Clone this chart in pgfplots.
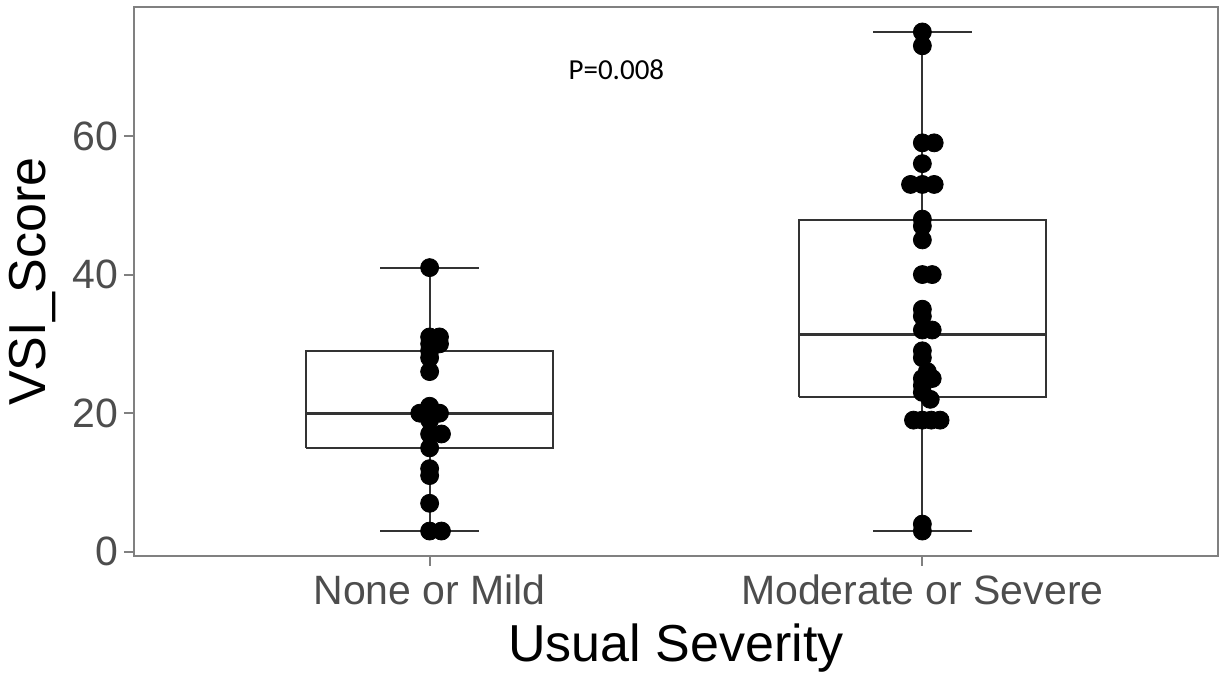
\documentclass[border=0pt]{standalone}
\usepackage{pgfplots}
\pgfplotsset{compat=1.18}
\usetikzlibrary{calc}
\usepackage{fontspec}
\setmainfont{Liberation Sans}
\newfontfamily\calib{Carlito}
\definecolor{tickgray}{HTML}{4D4D4D}
\definecolor{framegray}{HTML}{808080}
\definecolor{boxgray}{HTML}{333333}
\begin{document}
\begin{tikzpicture}
\begin{axis}[
  name=ax,
  scale only axis,
  width=542pt, height=274.5pt,
  xmin=0.4, xmax=2.6,
  ymin=-0.6, ymax=78.6,
  xtick={1,2},
  xticklabels={None or Mild, Moderate or Severe},
  ytick={0,20,40,60},
  tick align=outside,
  xtick pos=bottom, ytick pos=left,
  major tick length=5pt,
  axis line style={framegray, line width=1pt},
  every tick/.style={framegray, line width=1pt},
  /pgf/number format/assume math mode=true,
  ticklabel style={font=\fontsize{20.5}{24}\selectfont, text=tickgray},
  yticklabel style={inner sep=0pt, xshift=-2.5pt},
  xticklabel style={inner sep=0pt, yshift=-4pt},
  every axis y label/.style={at={(axis description cs:-0.094,0.5)}, rotate=90, anchor=center, font=\fontsize{26}{30}\selectfont},
  every axis x label/.style={at={(axis description cs:0.5,-0.193)}, anchor=base, font=\fontsize{26}{30}\selectfont},
  ylabel={VSI\_Score},
  xlabel={Usual Severity},
  clip=false,
]
% box 1
\addplot[draw=boxgray, line width=1pt] coordinates {(0.75,15) (1.25,15) (1.25,29) (0.75,29) (0.75,15)};
\addplot[draw=boxgray, line width=1.6pt] coordinates {(0.75,20) (1.25,20)};
\addplot[draw=boxgray, line width=1pt] coordinates {(1,29) (1,41)};
\addplot[draw=boxgray, line width=1pt] coordinates {(1,15) (1,3)};
\addplot[draw=boxgray, line width=1pt] coordinates {(0.9,41) (1.1,41)};
\addplot[draw=boxgray, line width=1pt] coordinates {(0.9,3) (1.1,3)};
% box 2
\addplot[draw=boxgray, line width=1pt] coordinates {(1.75,22.3) (2.25,22.3) (2.25,47.8) (1.75,47.8) (1.75,22.3)};
\addplot[draw=boxgray, line width=1.6pt] coordinates {(1.75,31.4) (2.25,31.4)};
\addplot[draw=boxgray, line width=1pt] coordinates {(2,47.8) (2,75)};
\addplot[draw=boxgray, line width=1pt] coordinates {(2,22.3) (2,3)};
\addplot[draw=boxgray, line width=1pt] coordinates {(1.9,75) (2.1,75)};
\addplot[draw=boxgray, line width=1pt] coordinates {(1.9,3) (2.1,3)};
\addplot[only marks, mark=*, mark size=4.5pt, black] coordinates {
 (1,41) (1,31) (1.02,31) (1,30) (1.02,30) (1,29) (1,28) (1,26)
 (1,21) (0.98,20) (1.02,20) (1,19) (1,17) (1.024,17) (1,15) (1,12) (1,11) (1,7) (1,3) (1.024,3)
};
\addplot[only marks, mark=*, mark size=4.5pt, black] coordinates {
 (2,75) (2,73) (2,59) (2.024,59) (2,56) (1.976,53) (2,53) (2.024,53)
 (2,48) (2,47) (2,45) (2,40) (2.02,40) (2,35) (2,34) (2,32) (2.02,32)
 (2,29) (2,28) (2.01,26) (2.02,25) (2,25) (2,24) (2,23) (2.016,22)
 (1.982,19) (2,19) (2.018,19) (2.036,19) (2,4) (2,3)
};
\node[font=\calib\fontsize{14.5}{17}\selectfont, anchor=center] at (axis cs:1.379,69.5) {P=0.008};
\end{axis}
\path ($(ax.south west)+(-67pt,-58pt)$) rectangle ($(ax.north east)+(3.5pt,3.5pt)$);
\end{tikzpicture}
\end{document}
